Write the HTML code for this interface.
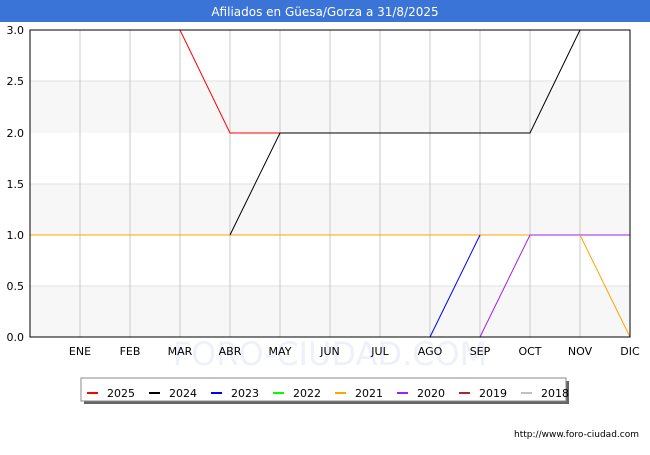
<!DOCTYPE html>
<html><head><meta charset="utf-8"><style>
body{margin:0;width:650px;height:450px;background:#fff;font-family:"Liberation Sans","DejaVu Sans",sans-serif;overflow:hidden}
</style></head><body>
<svg width="650" height="450" xmlns="http://www.w3.org/2000/svg" font-family="DejaVu Sans, Liberation Sans, sans-serif">
<rect x="0" y="0" width="650" height="22" fill="#3a74d6"/>
<text x="325" y="16" text-anchor="middle" font-size="12" fill="#fff">Afiliados en Güesa/Gorza a 31/8/2025</text>
<rect x="30" y="81" width="600" height="52" fill="#f7f7f7"/>
<rect x="30" y="184" width="600" height="51" fill="#f7f7f7"/>
<rect x="30" y="286" width="600" height="51" fill="#f7f7f7"/>
<g stroke="#e0e0e0"><line x1="30" y1="81" x2="630" y2="81"/><line x1="30" y1="184" x2="630" y2="184"/><line x1="30" y1="286" x2="630" y2="286"/></g>
<g stroke="#c8c8c8">
<line x1="80" y1="30" x2="80" y2="337"/><line x1="130" y1="30" x2="130" y2="337"/><line x1="180" y1="30" x2="180" y2="337"/><line x1="230" y1="30" x2="230" y2="337"/><line x1="280" y1="30" x2="280" y2="337"/><line x1="330" y1="30" x2="330" y2="337"/><line x1="380" y1="30" x2="380" y2="337"/><line x1="430" y1="30" x2="430" y2="337"/><line x1="480" y1="30" x2="480" y2="337"/><line x1="530" y1="30" x2="530" y2="337"/><line x1="580" y1="30" x2="580" y2="337"/>
</g>
<text x="330" y="365" text-anchor="middle" font-size="32" fill="#eef0fa">FORO-CIUDAD.COM</text>
<g fill="none" stroke-width="1">
<polyline points="30,235 530,235" stroke="#ffa500"/>
<polyline points="180,30 230,133 280,133" stroke="#ff0000"/>
<polyline points="230,235 280,133 530,133 580,30" stroke="#000"/>
<polyline points="430,337 480,235" stroke="#0000ff"/>
<polyline points="480,337 530,235 630,235" stroke="#a020f0"/>
<polyline points="580,235 630,337" stroke="#ffa500"/>
</g>
<rect x="30" y="30" width="600" height="307" fill="none" stroke="#000"/>
<g font-size="11" fill="#000" text-anchor="end">
<text x="24" y="34">3.0</text><text x="24" y="85">2.5</text><text x="24" y="137">2.0</text><text x="24" y="188">1.5</text><text x="24" y="239">1.0</text><text x="24" y="290">0.5</text><text x="24" y="341">0.0</text>
</g>
<g font-size="11" fill="#000" text-anchor="middle">
<text x="80" y="355">ENE</text><text x="130" y="355">FEB</text><text x="180" y="355">MAR</text><text x="230" y="355">ABR</text><text x="280" y="355">MAY</text><text x="330" y="355">JUN</text><text x="380" y="355">JUL</text><text x="430" y="355">AGO</text><text x="480" y="355">SEP</text><text x="530" y="355">OCT</text><text x="580" y="355">NOV</text><text x="630" y="355">DIC</text>
</g>
<rect x="84" y="381" width="485" height="23" fill="#666"/>
<rect x="81" y="378" width="485" height="23" fill="#fff" stroke="#888"/>
<g stroke-width="2">
<line x1="87" y1="393" x2="98" y2="393" stroke="#ff0000"/>
<line x1="149" y1="393" x2="160" y2="393" stroke="#000"/>
<line x1="211" y1="393" x2="222" y2="393" stroke="#0000ff"/>
<line x1="273" y1="393" x2="284" y2="393" stroke="#00ff00"/>
<line x1="335" y1="393" x2="346" y2="393" stroke="#ffa500"/>
<line x1="397" y1="393" x2="408" y2="393" stroke="#a020f0"/>
<line x1="459" y1="393" x2="470" y2="393" stroke="#a52a2a"/>
<line x1="521" y1="393" x2="532" y2="393" stroke="#c0c0c0"/>
</g>
<g font-size="11" fill="#000">
<text x="107" y="397">2025</text><text x="169" y="397">2024</text><text x="231" y="397">2023</text><text x="293" y="397">2022</text><text x="355" y="397">2021</text><text x="417" y="397">2020</text><text x="479" y="397">2019</text><text x="541" y="397">2018</text>
</g>
<text x="639" y="437" text-anchor="end" font-size="9" fill="#000">http://www.foro-ciudad.com</text>
</svg>
</body></html>
